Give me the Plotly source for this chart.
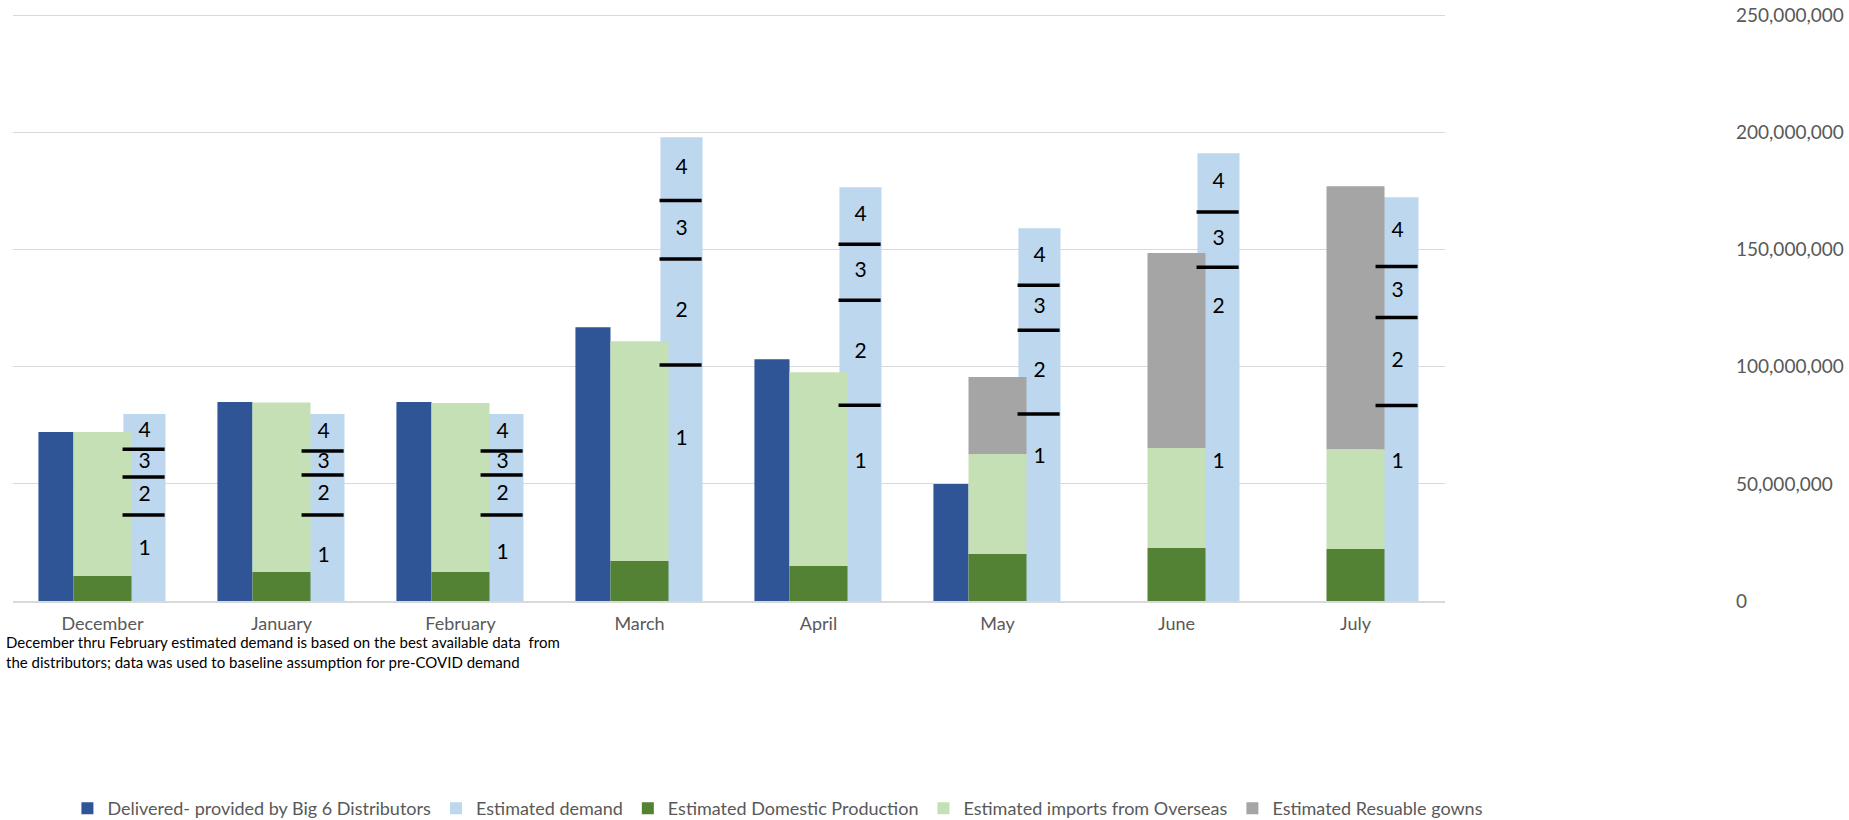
import plotly.graph_objects as go

# ---------------- data (values in units) ----------------
months = ["December", "January", "February", "March", "April", "May", "June", "July"]
delivered = [72.1e6, 84.9e6, 84.9e6, 116.9e6, 103.2e6, 49.9e6, None, None]
est_demand = [79.8e6, 79.8e6, 79.8e6, 198.0e6, 176.6e6, 159.1e6, 191.1e6, 172.4e6]
domestic = [10.7e6, 12.4e6, 12.4e6, 17.1e6, 14.9e6, 20.1e6, 22.6e6, 22.2e6]
imports = [61.4e6, 72.3e6, 72.1e6, 93.8e6, 82.8e6, 42.6e6, 42.7e6, 42.6e6]
reusable = [0, 0, 0, 0, 0, 32.9e6, 83.2e6, 112.2e6]
# boundaries between demand levels 1|2, 2|3, 3|4
level_12 = [36.7e6, 36.7e6, 36.7e6, 100.7e6, 83.6e6, 79.8e6, 108.0e6, 83.4e6]
level_23 = [52.9e6, 53.8e6, 53.8e6, 146.0e6, 128.4e6, 115.6e6, 142.5e6, 121.0e6]
level_34 = [64.8e6, 64.0e6, 64.0e6, 171.0e6, 152.3e6, 134.8e6, 166.0e6, 142.8e6]
# whether the 1|2 boundary marker is drawn (June has none)
show_12 = [True, True, True, True, True, True, False, True]
# where the "1" label sits inside level 1
label1_level = [22e6, 19e6, 20e6, 69e6, 59e6, 61e6, 59e6, 59e6]
level_names = ["1", "2", "3", "4"]
y_ticks = [0, 50e6, 100e6, 150e6, 200e6, 250e6]
note = ("December thru February estimated demand is based on the best available data  from<br>"
        "the distributors; data was used to baseline assumption for pre-COVID demand")

# ---------------- styling ----------------
C_DELIV = "#2F5597"
C_DEMAND = "#BDD7EE"
C_DOM = "#548235"
C_IMP = "#C5E0B4"
C_REUSE = "#A5A5A5"
GRID = "#D9D9D9"
TXT = "#595959"
FONT = "Lato, Carlito, sans-serif"

x = list(range(len(months)))

OFF_DEL, W_DEL = -0.358, 0.196
OFF_GRN, W_GRN = -0.162, 0.324
OFF_DEM, W_DEM = 0.117, 0.235

base_imp = [d for d in domestic]
base_reuse = [d + i for d, i in zip(domestic, imports)]

fig = go.Figure()
fig.add_trace(go.Bar(x=x, y=est_demand, name="Estimated demand", marker_color=C_DEMAND,
                     offset=OFF_DEM, width=W_DEM, marker_line_width=0, legendrank=2))
fig.add_trace(go.Bar(x=x, y=delivered, name="Delivered- provided by Big 6 Distributors",
                     marker_color=C_DELIV, offset=OFF_DEL, width=W_DEL, marker_line_width=0,
                     legendrank=1))
fig.add_trace(go.Bar(x=x, y=domestic, base=[0] * len(x), name="Estimated Domestic Production",
                     marker_color=C_DOM, offset=OFF_GRN, width=W_GRN, marker_line_width=0,
                     legendrank=3))
fig.add_trace(go.Bar(x=x, y=imports, base=base_imp, name="Estimated imports from Overseas",
                     marker_color=C_IMP, offset=OFF_GRN, width=W_GRN, marker_line_width=0,
                     legendrank=4))
fig.add_trace(go.Bar(x=x, y=reusable, base=base_reuse, name="Estimated Resuable gowns",
                     marker_color=C_REUSE, offset=OFF_GRN, width=W_GRN, marker_line_width=0,
                     legendrank=5))

# level boundary markers
lx, ly = [], []
for i in x:
    levs = [level_12[i] if show_12[i] else None, level_23[i], level_34[i]]
    for lev in levs:
        if lev is None:
            continue
        lx += [i + OFF_DEM - 0.005, i + OFF_DEM + W_DEM - 0.005, None]
        ly += [lev, lev, None]
fig.add_trace(go.Scatter(x=lx, y=ly, mode="lines", line=dict(color="black", width=3.5),
                         showlegend=False, hoverinfo="skip"))

# level labels
tx, ty, tt = [], [], []
for i in x:
    bounds = [level_12[i], level_23[i], level_34[i]]
    lower = [0] + bounds
    upper = bounds + [est_demand[i]]
    for k in range(4):
        yv = label1_level[i] if k == 0 else (lower[k] + upper[k]) / 2
        tx.append(i + OFF_DEM + W_DEM / 2)
        ty.append(yv)
        tt.append(level_names[k])
fig.add_trace(go.Scatter(x=tx, y=ty, mode="text", text=tt,
                         textfont=dict(size=21, color="black", family=FONT),
                         showlegend=False, hoverinfo="skip"))

fig.add_annotation(text=note, xref="paper", yref="paper", x=-0.006, y=-0.087,
                   xanchor="left", yanchor="middle", align="left", showarrow=False,
                   font=dict(size=15, color="black", family=FONT))

fig.update_layout(
    width=1849, height=820,
    barmode="overlay",
    plot_bgcolor="white", paper_bgcolor="white",
    margin=dict(l=13, r=404, t=13, b=219, autoexpand=False),
    font=dict(family=FONT, color=TXT, size=18),
    legend=dict(orientation="h", x=0.038, y=-0.353, xanchor="left", yanchor="middle",
                font=dict(size=18, color=TXT), traceorder="normal", itemclick=False),
    xaxis=dict(range=[-0.5, len(months) - 0.5], tickvals=x, ticktext=months,
               showgrid=False, zeroline=False, showline=True, linecolor=GRID, linewidth=1.5,
               ticks="", ticklabelstandoff=6, automargin=False,
               tickfont=dict(size=18, color=TXT)),
    yaxis=dict(side="right", range=[0, 251e6], tickvals=y_ticks,
               tickformat=",d", showgrid=True, gridcolor=GRID, gridwidth=1, zeroline=False,
               showline=False, ticks="", ticklabelstandoff=290, automargin=False,
               tickfont=dict(size=19, color=TXT)),
)

fig.write_html("out.html",
               config={"displayModeBar": False},
               post_script="document.body.style.margin='0px';"
                           "document.body.style.overflow='hidden';")
